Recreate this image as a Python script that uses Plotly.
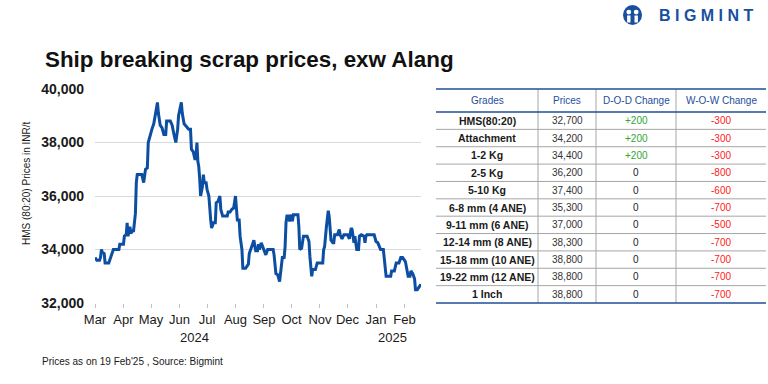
import plotly.graph_objects as go

# ---------------- data ----------------
dates = [
    "2024-03-01", "2024-03-03", "2024-03-06", "2024-03-07", "2024-03-08", "2024-03-09",
    "2024-03-11", "2024-03-12", "2024-03-16", "2024-03-18", "2024-03-20", "2024-03-21",
    "2024-03-27", "2024-03-28", "2024-04-01", "2024-04-02", "2024-04-04", "2024-04-05",
    "2024-04-06", "2024-04-08", "2024-04-09", "2024-04-11", "2024-04-12", "2024-04-14",
    "2024-04-15", "2024-04-16", "2024-04-21", "2024-04-23", "2024-04-25", "2024-04-27",
    "2024-04-28", "2024-04-30", "2024-05-02", "2024-05-04", "2024-05-06", "2024-05-08",
    "2024-05-09", "2024-05-11", "2024-05-13", "2024-05-15", "2024-05-17", "2024-05-18",
    "2024-05-22", "2024-05-24", "2024-05-26", "2024-05-28", "2024-05-30", "2024-05-31",
    "2024-06-03", "2024-06-04", "2024-06-06", "2024-06-09", "2024-06-11", "2024-06-13",
    "2024-06-14", "2024-06-16", "2024-06-18", "2024-06-19", "2024-06-20", "2024-06-21",
    "2024-06-22", "2024-06-23", "2024-06-24", "2024-06-26", "2024-06-27", "2024-06-28",
    "2024-06-30", "2024-07-01", "2024-07-03", "2024-07-05", "2024-07-06", "2024-07-08",
    "2024-07-10", "2024-07-11", "2024-07-13", "2024-07-15", "2024-07-16", "2024-07-18",
    "2024-07-21", "2024-07-23", "2024-07-24", "2024-07-26", "2024-07-28", "2024-07-30",
    "2024-08-01", "2024-08-02", "2024-08-03", "2024-08-05", "2024-08-06", "2024-08-08",
    "2024-08-09", "2024-08-12", "2024-08-15", "2024-08-16", "2024-08-18", "2024-08-19",
    "2024-08-21", "2024-08-23", "2024-08-25", "2024-08-26", "2024-08-27", "2024-08-29",
    "2024-08-31", "2024-09-02", "2024-09-03", "2024-09-05", "2024-09-11", "2024-09-12",
    "2024-09-14", "2024-09-16", "2024-09-18", "2024-09-19", "2024-09-21", "2024-09-23",
    "2024-09-24", "2024-09-25", "2024-09-26", "2024-09-28", "2024-09-29", "2024-10-01",
    "2024-10-02", "2024-10-03", "2024-10-06", "2024-10-08", "2024-10-09", "2024-10-10",
    "2024-10-12", "2024-10-14", "2024-10-18", "2024-10-20", "2024-10-21", "2024-10-23",
    "2024-10-24", "2024-10-27", "2024-10-29", "2024-11-02", "2024-11-04", "2024-11-05",
    "2024-11-06", "2024-11-08", "2024-11-10", "2024-11-11", "2024-11-13", "2024-11-15",
    "2024-11-16", "2024-11-17", "2024-11-20", "2024-11-22", "2024-11-23", "2024-11-25",
    "2024-11-27", "2024-12-01", "2024-12-03", "2024-12-05", "2024-12-06", "2024-12-08",
    "2024-12-09", "2024-12-11", "2024-12-13", "2024-12-14", "2024-12-16", "2024-12-19",
    "2024-12-20", "2024-12-21", "2024-12-22", "2024-12-30", "2025-01-01", "2025-01-03",
    "2025-01-06", "2025-01-09", "2025-01-11", "2025-01-12", "2025-01-14", "2025-01-17",
    "2025-01-18", "2025-01-21", "2025-01-23", "2025-01-26", "2025-01-28", "2025-01-30",
    "2025-02-02", "2025-02-03", "2025-02-05", "2025-02-07", "2025-02-08", "2025-02-10",
    "2025-02-12", "2025-02-13", "2025-02-15", "2025-02-17", "2025-02-19",
]
prices = [
    33700, 33600, 33600, 33700, 34000, 33900,
    33850, 33500, 33500, 33700, 33850, 34000,
    34000, 34200, 34200, 34500, 34550, 35000,
    34500, 34850, 34600, 34700, 34700, 35350,
    36500, 36800, 36800, 36500, 37000, 37050,
    38000, 38300, 38500, 38700, 39100, 39500,
    39100, 38650, 38550, 38300, 38300, 38800,
    38800, 38650, 38300, 38000, 38500, 39000,
    39500, 39100, 38700, 38600, 38500, 38500,
    37750, 37650, 37350, 37500, 38000, 37300,
    37100, 36650, 36000, 36350, 36800, 36500,
    36500, 36250, 36000, 35100, 34800, 35000,
    35000, 35750, 35800, 36000, 35500, 35250,
    35250, 35250, 35400, 35400, 35500, 35550,
    36000, 35350, 35100, 35100, 34500, 34000,
    33300, 33300, 33450, 33850, 34050, 34200,
    34350, 33950, 33950, 34200, 34000, 34250,
    34050, 33850, 33800, 34000, 34000, 33800,
    33100, 33050, 32800, 33100, 33700, 33700,
    34100, 35000, 35250, 35250, 35050, 35300,
    35050, 35300, 35300, 35300, 34850, 34000,
    34050, 34500, 34500, 34300, 33750, 33000,
    33250, 33250, 33500, 33500, 33500, 34000,
    34100, 34850, 35450, 35250, 34350, 34250,
    34250, 34550, 34550, 34750, 34550, 34400,
    34550, 34550, 34400, 34800, 34750, 34250,
    34500, 34000, 34000, 34500, 34550, 34500,
    34250, 34500, 34550, 34550, 34300, 34250,
    34000, 34000, 33400, 33000, 33000, 33000,
    33200, 33200, 33500, 33500, 33700, 33700,
    33550, 33300, 33000, 33000, 33200, 33100,
    32900, 32500, 32500, 32600, 32700,
]

year_labels = ["2024", "2025"]

table_headers = ["Grades", "Prices", "D-O-D Change", "W-O-W Change"]
grades = ["HMS(80:20)", "Attachment", "1-2 Kg", "2-5 Kg", "5-10 Kg",
          "6-8 mm (4 ANE)", "9-11 mm (6 ANE)", "12-14 mm (8 ANE)",
          "15-18 mm (10 ANE)", "19-22 mm (12 ANE)", "1 Inch"]
grade_prices = [32700, 34200, 34400, 36200, 37400, 35300, 37000, 38300, 38800, 38800, 38800]
dod_change = [200, 200, 200, 0, 0, 0, 0, 0, 0, 0, 0]
wow_change = [-300, -300, -300, -800, -600, -700, -500, -700, -700, -700, -700]

title_text = "Ship breaking scrap prices, exw Alang"
y_title = "HMS (80:20) Prices in INR/t"
footnote = "Prices as on 19 Feb'25 , Source: Bigmint"
brand = "BIGMINT"

# ---------------- layout helpers ----------------
W, H = 768, 384
L, R, T, B = 95, 421, 89, 303


def px(x):
    return (x - L) / (R - L)


def py(y):
    return (B - y) / (B - T)


FONT = "Liberation Sans, Arial, sans-serif"
BLUE = "#0b4ea2"
DARK = "#1a1a1a"

fig = go.Figure()
fig.add_trace(go.Scatter(
    x=dates, y=prices, mode="lines",
    line=dict(color=BLUE, width=3),
    hoverinfo="skip", showlegend=False,
))

annotations = []
shapes = []

# title
annotations.append(dict(
    text="<b>" + title_text + "</b>", x=px(43), y=py(60), xref="paper", yref="paper",
    xanchor="left", yanchor="middle", showarrow=False,
    font=dict(family=FONT, size=22.4, color="#111111"),
))

# y axis title
annotations.append(dict(
    text=y_title, x=px(26), y=py(183), xref="paper", yref="paper",
    xanchor="center", yanchor="middle", textangle=-90, showarrow=False,
    font=dict(family=FONT, size=10, color=DARK),
))

# year labels
for lbl, xp in zip(year_labels, [194, 392]):
    annotations.append(dict(
        text=lbl, x=px(xp), y=py(337), xref="paper", yref="paper",
        xanchor="center", yanchor="middle", showarrow=False,
        font=dict(family=FONT, size=13, color=DARK),
    ))

# footnote
annotations.append(dict(
    text=footnote, x=px(40), y=py(361), xref="paper", yref="paper",
    xanchor="left", yanchor="middle", showarrow=False,
    font=dict(family=FONT, size=10, color=DARK),
))

# logo
annotations.append(dict(
    text="<b>" + " ".join(brand) + "</b>", x=px(657), y=py(15),
    xref="paper", yref="paper", xanchor="left", yanchor="middle", showarrow=False,
    font=dict(family=FONT, size=16, color="#1a4fa0"),
))
shapes.append(dict(type="circle", xref="paper", yref="paper",
                   x0=px(623), x1=px(642), y0=py(25), y1=py(5),
                   fillcolor="#1a4fa0", line=dict(width=0)))
for cx in [628.8, 636.2]:
    shapes.append(dict(type="circle", xref="paper", yref="paper",
                       x0=px(cx - 2.4), x1=px(cx + 2.4), y0=py(14.5), y1=py(9.7),
                       fillcolor="white", line=dict(width=0)))
    shapes.append(dict(type="rect", xref="paper", yref="paper",
                       x0=px(cx - 1.7), x1=px(cx + 1.7), y0=py(22.5), y1=py(15.5),
                       fillcolor="white", line=dict(width=0)))

# ---------------- table ----------------
tbl_left, tbl_right = 436, 766
col_edges = [436, 538, 596, 676, 766]
hdr_top, hdr_bot, tbl_bot = 89, 112, 303
n = len(grades)
row_h = (tbl_bot - hdr_bot) / n
col_centers = [(col_edges[i] + col_edges[i + 1]) / 2 for i in range(4)]

for xe in col_edges[1:-1]:
    shapes.append(dict(type="line", xref="paper", yref="paper",
                       x0=px(xe), x1=px(xe), y0=py(hdr_top), y1=py(tbl_bot),
                       line=dict(color="#a6a6a6", width=1)))
for i in range(1, n):
    yy = hdr_bot + i * row_h
    shapes.append(dict(type="line", xref="paper", yref="paper",
                       x0=px(tbl_left), x1=px(tbl_right), y0=py(yy), y1=py(yy),
                       line=dict(color="#a6a6a6", width=1)))
for yy in [hdr_top, hdr_bot, tbl_bot]:
    shapes.append(dict(type="line", xref="paper", yref="paper",
                       x0=px(tbl_left), x1=px(tbl_right), y0=py(yy), y1=py(yy),
                       line=dict(color="#1f4e9a", width=1.5)))

for j, h in enumerate(table_headers):
    annotations.append(dict(
        text=h, x=px(col_centers[j]), y=py((hdr_top + hdr_bot) / 2),
        xref="paper", yref="paper", xanchor="center", yanchor="middle", showarrow=False,
        font=dict(family=FONT, size=10, color="#1f4e9a"),
    ))


def fmt_change(v):
    return "+{:,}".format(v) if v > 0 else "{:,}".format(v)


def change_color(v):
    if v > 0:
        return "#33a532"
    if v < 0:
        return "#ff2020"
    return DARK


for i in range(n):
    yc = py(hdr_bot + (i + 0.5) * row_h)
    cells = [
        ("<b>" + grades[i] + "</b>", DARK, 10.5),
        ("{:,}".format(grade_prices[i]), "#333333", 10),
        (fmt_change(dod_change[i]), change_color(dod_change[i]), 10),
        (fmt_change(wow_change[i]), change_color(wow_change[i]), 10),
    ]
    for j, (txt, col, fs) in enumerate(cells):
        annotations.append(dict(
            text=txt, x=px(col_centers[j]), y=yc,
            xref="paper", yref="paper", xanchor="center", yanchor="middle", showarrow=False,
            font=dict(family=FONT, size=fs, color=col),
        ))

fig.update_layout(
    width=W, height=H,
    margin=dict(l=L, r=W - R, t=T, b=H - B, pad=0),
    paper_bgcolor="white", plot_bgcolor="white",
    font=dict(family=FONT, color=DARK),
    xaxis=dict(
        type="date", range=["2024-03-01", "2025-02-19"],
        tick0="2024-03-01", dtick="M1", tickformat="%b",
        ticks="outside", ticklen=4, tickcolor="#bfbfbf",
        showgrid=False, zeroline=False, showline=False,
        tickfont=dict(family=FONT, size=13, color=DARK),
    ),
    yaxis=dict(
        range=[32000, 40000], dtick=2000, tickformat=",",
        showgrid=True, gridcolor="#d9d9d9", gridwidth=1,
        zeroline=False, showline=False, ticks="",
        ticklabelstandoff=10,
        tickfont=dict(family=FONT, size=14, color=DARK, weight="bold"),
    ),
    annotations=annotations,
    shapes=shapes,
    showlegend=False,
)

fig.write_html(
    "out.html",
    config={"displayModeBar": False},
    post_script="document.body.style.margin='0';document.body.style.overflow='hidden';",
)
